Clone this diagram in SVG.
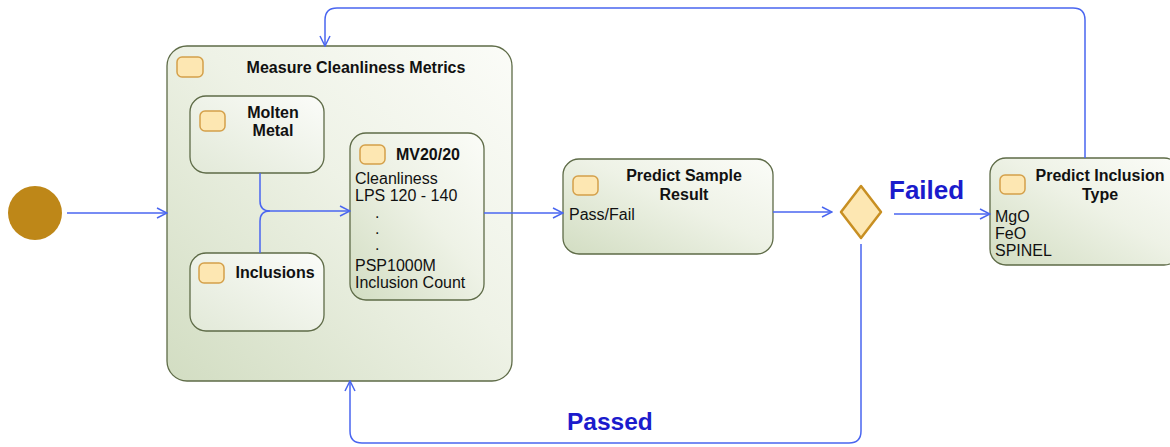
<svg xmlns="http://www.w3.org/2000/svg" width="1170" height="447" viewBox="0 0 1170 447">
  <defs>
    <linearGradient id="stateFill" x1="1" y1="0" x2="0" y2="1">
      <stop offset="0" stop-color="#fbfcf8"/>
      <stop offset="0.45" stop-color="#eef2e6"/>
      <stop offset="1" stop-color="#d2ddc2"/>
    </linearGradient>
    <linearGradient id="innerFill" x1="1" y1="0" x2="0" y2="1">
      <stop offset="0" stop-color="#fbfcf9"/>
      <stop offset="1" stop-color="#e2e9d8"/>
    </linearGradient>
    <marker id="arrow" viewBox="0 0 12 12" refX="11" refY="6" markerWidth="12" markerHeight="12" markerUnits="userSpaceOnUse" orient="auto">
      <path d="M1,1 L11,6 L1,11" fill="none" stroke="#4a66f0" stroke-width="1.5"/>
    </marker>
  </defs>
  <style>
    .state { fill: url(#stateFill); stroke: #5e6b47; stroke-width: 1.3; }
    .inner { fill: url(#innerFill); stroke: #5e6b47; stroke-width: 1.3; }
    .icon { fill: #fde7b2; stroke: #d4a04a; stroke-width: 1.5; }
    .title { font-family: "Liberation Sans", Arial, sans-serif; font-weight: bold; font-size: 16px; fill: #111; text-anchor: middle; }
    .body { font-family: "Liberation Sans", Arial, sans-serif; font-size: 16px; fill: #111; }
    .guard { font-family: "Liberation Sans", Arial, sans-serif; font-weight: bold; font-size: 25px; fill: #1b1bcc; }
    .flow { fill: none; stroke: #4a66f0; stroke-width: 1.5; marker-end: url(#arrow); }
    .flow-plain { fill: none; stroke: #4a66f0; stroke-width: 1.5; }
  </style>

  <rect width="1170" height="447" fill="#ffffff"/>

  <!-- initial pseudo-state -->
  <g id="start">
    <circle cx="35" cy="213" r="27" fill="#be8718"/>
  </g>

  <!-- composite state -->
  <g id="measure">
    <rect class="state" x="167" y="46" width="345" height="335" rx="20"/>
    <rect class="icon" x="177" y="57" width="26" height="20" rx="5"/>
    <text class="title" x="356" y="73">Measure Cleanliness Metrics</text>
  </g>

  <g id="molten-metal">
    <rect class="inner" x="190" y="96" width="134" height="77" rx="16"/>
    <rect class="icon" x="200" y="111" width="25" height="20" rx="5"/>
    <text class="title" x="273" y="118">Molten</text>
    <text class="title" x="273" y="136">Metal</text>
  </g>

  <g id="inclusions">
    <rect class="inner" x="190" y="253" width="134" height="78" rx="16"/>
    <rect class="icon" x="199" y="263" width="25" height="20" rx="5"/>
    <text class="title" x="275" y="278">Inclusions</text>
  </g>

  <g id="mv2020">
    <rect class="state" x="350" y="133" width="134" height="167" rx="16"/>
    <rect class="icon" x="360" y="145" width="25" height="19" rx="5"/>
    <text class="title" x="428" y="160">MV20/20</text>
    <text class="body" x="355" y="184">Cleanliness</text>
    <text class="body" x="355" y="201">LPS 120 - 140</text>
    <text class="body" x="375" y="218">.</text>
    <text class="body" x="375" y="234">.</text>
    <text class="body" x="375" y="250">.</text>
    <text class="body" x="355" y="271">PSP1000M</text>
    <text class="body" x="355" y="288">Inclusion Count</text>
  </g>

  <g id="predict-sample">
    <rect class="state" x="563" y="159" width="210" height="95" rx="16"/>
    <rect class="icon" x="573" y="176" width="25" height="19" rx="5"/>
    <text class="title" x="684" y="181">Predict Sample</text>
    <text class="title" x="684" y="200">Result</text>
    <text class="body" x="569" y="220">Pass/Fail</text>
  </g>

  <g id="decision">
    <path d="M861,186 L881,212 L861,238 L841,212 Z" fill="#fde7b2" stroke="#c88f22" stroke-width="2.5" stroke-linejoin="round"/>
  </g>

  <g id="predict-inclusion">
    <rect class="state" x="990" y="158" width="190" height="107" rx="16"/>
    <rect class="icon" x="1000" y="175" width="25" height="19" rx="5"/>
    <text class="title" x="1100" y="181">Predict Inclusion</text>
    <text class="title" x="1100" y="200">Type</text>
    <text class="body" x="995" y="222">MgO</text>
    <text class="body" x="995" y="239">FeO</text>
    <text class="body" x="995" y="256">SPINEL</text>
  </g>

  <!-- transitions -->
  <g id="connectors">
    <path class="flow" d="M67,213 L167,213"/>
    <path class="flow-plain" d="M260,173 L260,201 Q260,211 270,211"/>
    <path class="flow-plain" d="M260,253 L260,221 Q260,211 270,211"/>
    <path class="flow" d="M270,211 L350,211"/>
    <path class="flow" d="M484,213 L563,213"/>
    <path class="flow" d="M773,212 L832,212"/>
    <path class="flow" d="M894,214 L990,214"/>
    <path class="flow" d="M1085,158 L1085,20 Q1085,8 1073,8 L337,8 Q325,8 325,20 L325,46"/>
    <path class="flow" d="M861,244 L861,431 Q861,443 849,443 L362,443 Q350,443 350,431 L350,381"/>
  </g>

  <g id="guards">
    <text class="guard" x="889" y="199" style="font-size:26px">Failed</text>
    <text class="guard" x="567" y="430" style="font-size:24.5px">Passed</text>
  </g>
</svg>
